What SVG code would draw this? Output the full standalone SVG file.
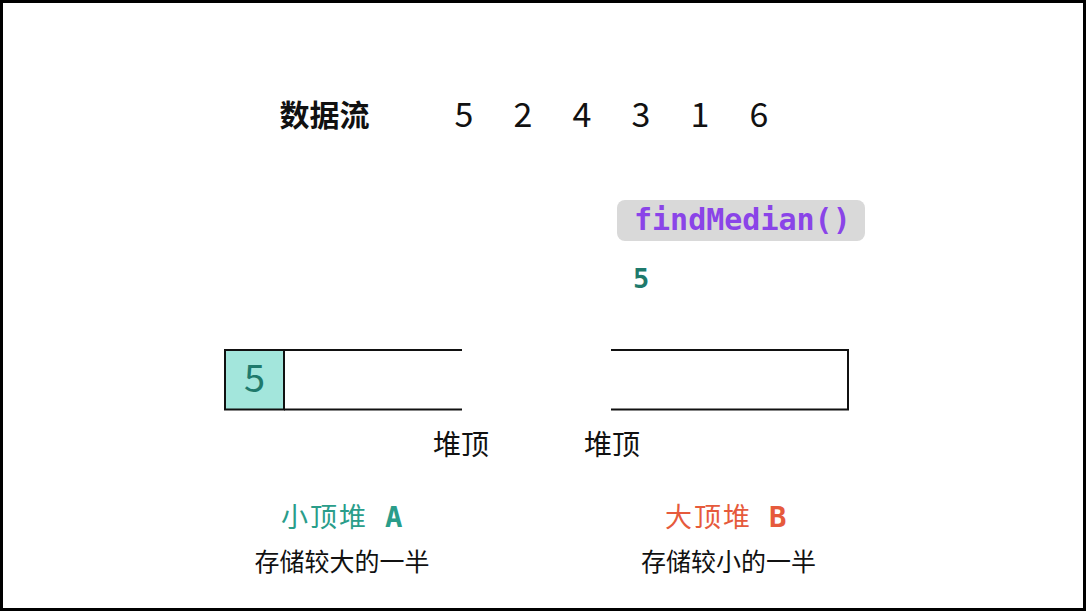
<svg xmlns="http://www.w3.org/2000/svg" width="1087" height="612" viewBox="0 0 1087 612">
<style>
.cjk{font-family:"Noto Sans CJK SC","Noto Sans",sans-serif;fill:#111}
.mono{font-family:"DejaVu Sans Mono","Liberation Mono",monospace;font-weight:bold}
.ln{fill:none;stroke:#111;stroke-width:2}
.teal{fill:#2a9d8a}
.red{fill:#e65a3c}
</style>
<rect x="1.5" y="1.5" width="1083" height="608" fill="#fff" stroke="#000" stroke-width="3"/>
<g id="stream">
<text class="cjk" x="324.5" y="126" font-size="30" font-weight="bold" text-anchor="middle">数据流</text>
<g class="cjk" font-size="34" text-anchor="middle">
<text x="464" y="127">5</text>
<text x="523" y="127">2</text>
<text x="582" y="127">4</text>
<text x="641" y="127">3</text>
<text x="700" y="127">1</text>
<text x="759" y="127">6</text>
</g>
</g>
<g id="findMedian">
<rect x="617" y="200" width="248" height="41" rx="8" fill="#d9d9d9"/>
<text class="mono" x="634" y="230" font-size="30" fill="#8a44e8">findMedian()</text>
<text class="mono" x="633" y="288" font-size="27" fill="#1f7a6c">5</text>
</g>
<g id="heapA">
<rect x="225" y="350" width="59" height="59.5" fill="#a3e6dc" stroke="#111" stroke-width="2"/>
<path class="ln" d="M284 350H462M284 409.5H462"/>
<text class="cjk" x="254.5" y="392" font-size="38" text-anchor="middle" style="fill:#1f7a6c">5</text>
<text class="cjk" x="461" y="455" font-size="28" text-anchor="middle">堆顶</text>
<text class="cjk teal" x="281" y="527" font-size="27" letter-spacing="2">小顶堆</text>
<text class="mono teal" x="385" y="527" font-size="29">A</text>
<text class="cjk" x="342" y="571" font-size="25" text-anchor="middle">存储较大的一半</text>
</g>
<g id="heapB">
<path class="ln" d="M611 350H848V409.5H611"/>
<text class="cjk" x="612" y="455" font-size="28" text-anchor="middle">堆顶</text>
<text class="cjk red" x="665" y="527" font-size="27" letter-spacing="2">大顶堆</text>
<text class="mono red" x="769" y="527" font-size="29">B</text>
<text class="cjk" x="728.5" y="571" font-size="25" text-anchor="middle">存储较小的一半</text>
</g>
<g id="connectors"/>
</svg>
